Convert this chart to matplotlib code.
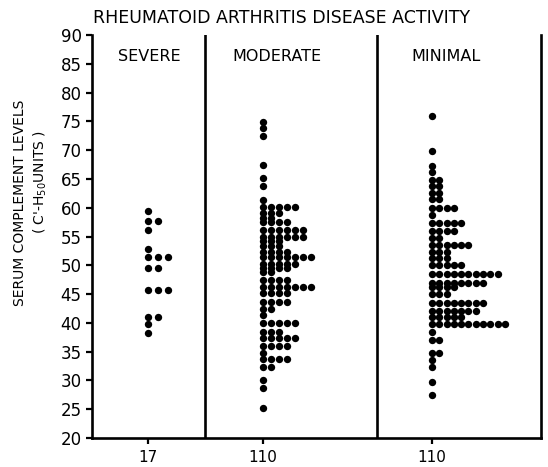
import matplotlib
matplotlib.use('Agg')
import matplotlib.pyplot as plt

# dot-plot rows: value and number of dots at that value
severe_vals = [59.5, 57.7, 56.1, 52.8, 51.4, 49.6, 45.8, 41.0, 39.8, 38.3]
severe_counts = [1, 2, 1, 1, 3, 2, 3, 2, 1, 1]

moderate_vals = [74.9, 73.8, 72.5, 67.5, 65.1, 63.7, 61.4,
                 60.1, 59.1, 58.2, 57.5, 56.2, 55.0, 54.2, 53.3, 52.4, 51.4, 50.3, 49.6,
                 48.9, 47.5, 46.3, 45.2, 43.7, 42.5, 41.4, 40.0, 38.5, 37.3, 36.0, 34.8,
                 33.7, 32.4, 30.1, 28.7, 25.2]
moderate_counts = [1, 1, 1, 1, 1, 1, 1,
                   5, 3, 2, 4, 6, 6, 3, 3, 4, 7, 5, 4,
                   2, 4, 7, 4, 4, 2, 1, 5, 3, 5, 4, 1,
                   4, 2, 1, 1, 1]

minimal_vals = [76.0, 69.8, 67.3, 66.2, 64.9, 63.8, 62.6, 61.5, 60.0, 58.8, 57.4, 56.0,
                54.7, 53.5, 52.3, 51.2, 50.0, 48.5, 47.0, 46.2, 45.0, 43.5, 42.0, 41.0,
                39.8, 38.5, 37.0, 34.8, 33.6, 32.3, 29.8, 27.4]
minimal_counts = [1, 1, 1, 1, 2, 2, 2, 2, 4, 1, 5, 4,
                  2, 6, 3, 3, 5, 10, 8, 4, 3, 8, 7, 5,
                  11, 1, 2, 2, 1, 1, 1, 1]

groups = ['SEVERE', 'MODERATE', 'MINIMAL']
n_labels = ['17', '110', '110']
yticks = list(range(20, 91, 5))

# layout (x in axis units ~ pixels)
centers = [56, 171, 340]
steps = [10, 8, 7.3]
dividers = [113, 285]
label_x = [57, 185, 354]

plt.rcParams['font.family'] = 'DejaVu Sans'
fig = plt.figure(figsize=(5.48, 4.67), dpi=100)
ax = fig.add_axes([0.168, 0.062, 0.819, 0.863])

data = [(severe_vals, severe_counts), (moderate_vals, moderate_counts),
        (minimal_vals, minimal_counts)]
for (vals, counts), c, st in zip(data, centers, steps):
    xs, ys = [], []
    for v, n in zip(vals, counts):
        for k in range(n):
            xs.append(c + k * st)
            ys.append(v)
    ax.scatter(xs, ys, s=28, color='black', linewidths=0, zorder=3)

for d in dividers:
    ax.axvline(d, ymin=0, ymax=1.0, color='black', lw=1.9)

ax.set_xlim(0, 449)
ax.set_ylim(20, 90)
ax.spines['top'].set_visible(False)
for s in ['left', 'bottom', 'right']:
    ax.spines[s].set_linewidth(1.9)

ax.set_yticks(yticks)
ax.set_yticklabels([str(t) for t in yticks], fontsize=12)
ax.set_xticks(centers)
ax.set_xticklabels(n_labels, fontsize=11)
ax.tick_params(axis='y', direction='out', length=4.5, width=1.6, pad=3)
ax.tick_params(axis='x', direction='out', length=4.5, width=1.6, pad=4)

for g, c in zip(groups, label_x):
    ax.text(c, 86.2, g, ha='center', va='center', fontsize=11.5)

fig.text(0.513, 0.962, 'RHEUMATOID ARTHRITIS DISEASE ACTIVITY', ha='center',
         va='center', fontsize=12.5)
fig.text(0.036, 0.565, 'SERUM COMPLEMENT LEVELS', rotation=90, ha='center',
         va='center', fontsize=10)
fig.text(0.074, 0.61, "( C'-H$_{50}$UNITS )", rotation=90, ha='center',
         va='center', fontsize=10)

fig.savefig('out.png', dpi=100)
